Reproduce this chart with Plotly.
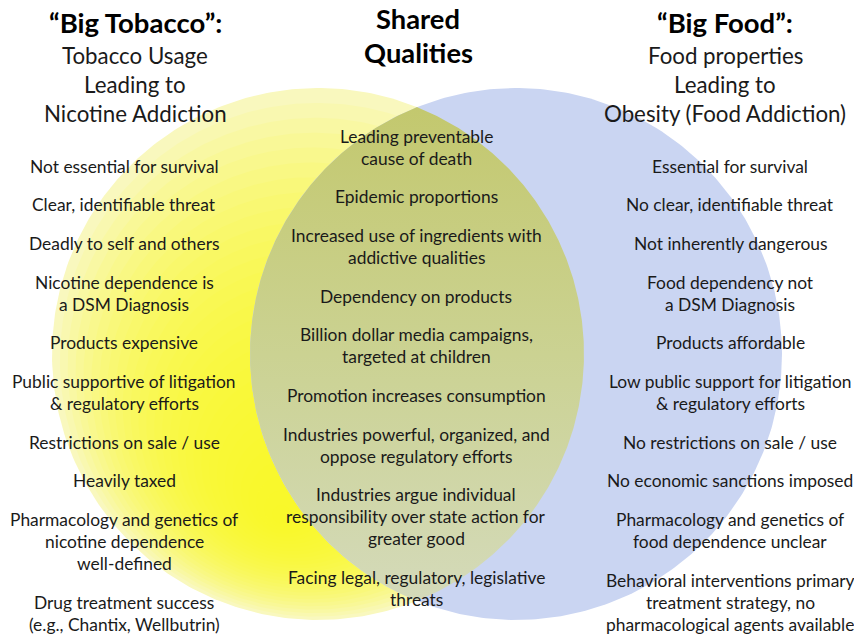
import numpy as np
import plotly.graph_objects as go

W, H = 854, 637

# ---------------- text data ----------------
left_title = "“Big Tobacco”:"
left_subtitle = ["Tobacco Usage", "Leading to", "Nicotine Addiction"]
mid_title = ["Shared", "Qualities"]
right_title = "“Big Food”:"
right_subtitle = ["Food properties", "Leading to", "Obesity (Food Addiction)"]

tobacco_items = [
    "Not essential for survival",
    "Clear, identifiable threat",
    "Deadly to self and others",
    "Nicotine dependence is<br>a DSM Diagnosis",
    "Products expensive",
    "Public supportive of litigation<br>& regulatory efforts",
    "Restrictions on sale / use",
    "Heavily taxed",
    "Pharmacology and genetics of<br>nicotine dependence<br>well-defined",
    "Drug treatment success<br>(e.g., Chantix, Wellbutrin)",
]

shared_items = [
    "Leading preventable<br>cause of death",
    "Epidemic proportions",
    "Increased use of ingredients with<br>addictive qualities",
    "Dependency on products",
    "Billion dollar media campaigns,<br>targeted at children",
    "Promotion increases consumption",
    "Industries powerful, organized, and<br>oppose regulatory efforts",
    "Industries argue individual<br>responsibility over state action for<br>greater good",
    "Facing legal, regulatory, legislative<br>threats",
]

food_items = [
    "Essential for survival",
    "No clear, identifiable threat",
    "Not inherently dangerous",
    "Food dependency not<br>a DSM Diagnosis",
    "Products affordable",
    "Low public support for litigation<br>& regulatory efforts",
    "No restrictions on sale / use",
    "No economic sanctions imposed",
    "Pharmacology and genetics of<br>food dependence unclear",
    "Behavioral interventions primary<br>treatment strategy, no<br>pharmacological agents available",
]

# ---------------- geometry / style ----------------
FONT = "Lato"
TXT = "#1a1a1a"
R = 266
CL = (318, 354)   # left circle centre
CR = (516, 354)   # right circle centre


def circle(c, r, n=400):
    t = np.linspace(0, 2 * np.pi, n)
    return c[0] + r * np.cos(t), c[1] + r * np.sin(t)


def lens(c1, c2, r, n=300):
    d = c2[0] - c1[0]
    a = np.arccos((d / 2) / r)
    t1 = np.linspace(np.pi - a, np.pi + a, n)
    x1 = c2[0] + r * np.cos(t1)
    y1 = c2[1] + r * np.sin(t1)
    t2 = np.linspace(a, -a, n)
    x2 = c1[0] + r * np.cos(t2)
    y2 = c1[1] + r * np.sin(t2)
    return np.concatenate([x1, x2]), np.concatenate([y1, y2])


fig = go.Figure()


def add_poly(x, y, color=None, gradient=None):
    kw = dict(x=x, y=y, mode="lines", fill="toself", line=dict(width=0),
              hoverinfo="skip", showlegend=False)
    if gradient is not None:
        kw["fillgradient"] = gradient
    else:
        kw["fillcolor"] = color
    fig.add_trace(go.Scatter(**kw))


# left circle: pale base + soft bright core toward lower right
x, y = circle(CL, R)
add_poly(x, y, "rgb(249,248,190)")
P = (280, 520)
N = 28
for k in range(1, N + 1):
    t = k / (N + 1)
    c = (CL[0] + t * (P[0] - CL[0]), CL[1] + t * (P[1] - CL[1]))
    x, y = circle(c, R * (1 - t))
    add_poly(x, y, "rgba(255,255,30,0.085)")

# right circle
x, y = circle(CR, R)
add_poly(x, y, "rgb(202,213,242)")

# overlap
x, y = lens(CL, CR, R)
add_poly(x, y, gradient=dict(type="vertical",
                             colorscale=[[0, "rgb(212,218,186)"],
                                         [0.5, "rgb(203,210,146)"],
                                         [1, "rgb(195,200,110)"]]))

# ---------------- text ----------------
ann = []


def add_text(s, x, y, size, bold=False):
    ann.append(dict(text=f"<b>{s}</b>" if bold else s, x=x, y=y,
                    xref="x", yref="y", showarrow=False,
                    xanchor="center", yanchor="middle",
                    font=dict(family=FONT, size=size, color="#000000" if bold else TXT)))


def add_items(items, cx, y0, size=17.4, line_h=22, gap=16.7):
    y = y0
    for it in items:
        lines = it.split("<br>")
        for k, l in enumerate(lines):
            add_text(l, cx, y + k * line_h, size)
        y += len(lines) * line_h + gap


# headers
add_text(left_title, 135, 22, 27.5, bold=True)
for k, s in enumerate(left_subtitle):
    add_text(s, 135, 55 + k * 29, 22.3)
for k, s in enumerate(mid_title):
    add_text(s, 418, 18 + k * 34, 27.3, bold=True)
add_text(right_title, 725, 22, 27.5, bold=True)
for k, s in enumerate(right_subtitle):
    add_text(s, 725, 55 + k * 29, 22.3)

add_items(tobacco_items, 124, 166)
add_items(shared_items, 416, 136)
add_items(food_items, 730, 166)

fig.update_layout(
    width=W, height=H, autosize=False,
    margin=dict(l=0, r=0, t=0, b=0),
    paper_bgcolor="white", plot_bgcolor="white",
    xaxis=dict(range=[0, W], visible=False, fixedrange=True),
    yaxis=dict(range=[H, 0], visible=False, fixedrange=True),
    annotations=ann,
)

fig.write_html("out.html", config={"displayModeBar": False},
               post_script="document.body.style.margin='0';document.body.style.overflow='hidden';")
